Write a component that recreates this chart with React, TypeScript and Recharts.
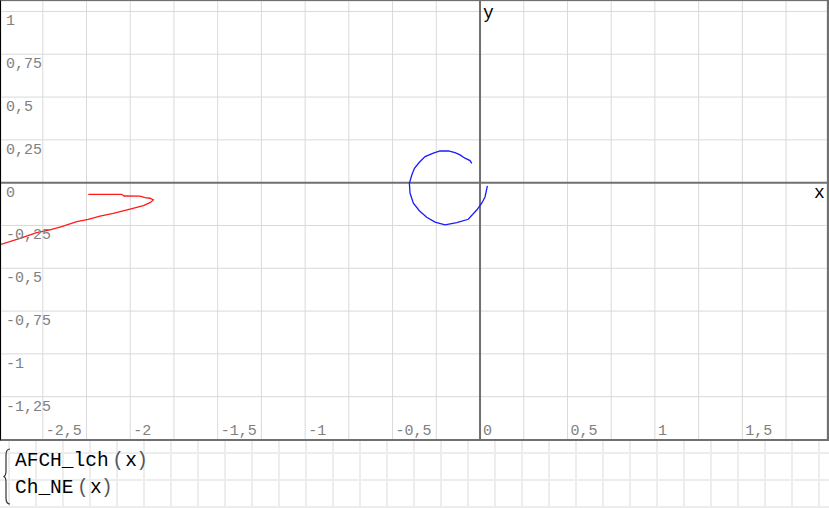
import { CartesianGrid, Legend, ReferenceLine, Scatter, ScatterChart, XAxis, YAxis } from "recharts";

// frequency response of the linear part (blue loop)
const AFCH_LCH = [
  { x: -0.047, y: 0.113 },
  { x: -0.057, y: 0.129 },
  { x: -0.086, y: 0.143 },
  { x: -0.114, y: 0.162 },
  { x: -0.143, y: 0.175 },
  { x: -0.181, y: 0.185 },
  { x: -0.229, y: 0.185 },
  { x: -0.267, y: 0.172 },
  { x: -0.314, y: 0.152 },
  { x: -0.347, y: 0.119 },
  { x: -0.375, y: 0.084 },
  { x: -0.39, y: 0.045 },
  { x: -0.404, y: -0.004 },
  { x: -0.4, y: -0.062 },
  { x: -0.381, y: -0.12 },
  { x: -0.347, y: -0.164 },
  { x: -0.305, y: -0.202 },
  { x: -0.257, y: -0.23 },
  { x: -0.2, y: -0.247 },
  { x: -0.133, y: -0.234 },
  { x: -0.067, y: -0.214 },
  { x: -0.019, y: -0.16 },
  { x: 0.01, y: -0.12 },
  { x: 0.029, y: -0.082 },
  { x: 0.042, y: -0.019 },
];

// nonlinear element characteristic (red)
const CH_NE = [
  { x: -2.24, y: -0.068 },
  { x: -2.049, y: -0.068 },
  { x: -2.035, y: -0.078 },
  { x: -1.944, y: -0.079 },
  { x: -1.915, y: -0.088 },
  { x: -1.887, y: -0.091 },
  { x: -1.868, y: -0.101 },
  { x: -1.887, y: -0.117 },
  { x: -1.925, y: -0.134 },
  { x: -2.001, y: -0.154 },
  { x: -2.097, y: -0.179 },
  { x: -2.173, y: -0.195 },
  { x: -2.24, y: -0.214 },
  { x: -2.306, y: -0.228 },
  { x: -2.392, y: -0.257 },
  { x: -2.459, y: -0.276 },
  { x: -2.535, y: -0.292 },
  { x: -2.63, y: -0.325 },
  { x: -2.76, y: -0.367 },
];

const X_TICKS = [-2.5, -2.25, -2, -1.75, -1.5, -1.25, -1, -0.75, -0.5, -0.25, 0, 0.25, 0.5, 0.75, 1, 1.25, 1.5, 1.75];
const X_LABELED = [-2.5, -2, -1.5, -1, -0.5, 0, 0.5, 1, 1.5];
const Y_TICKS = [1, 0.75, 0.5, 0.25, 0, -0.25, -0.5, -0.75, -1, -1.25];

const MONO = "'Liberation Mono', 'Courier New', monospace";
const fmt = (v: number) => String(v).replace(".", ",");

const NoDot = () => <g />;

const XTick = ({ x, y, payload }: any) => {
  if (!X_LABELED.includes(payload.value)) return <g />;
  return (
    <text x={x + 3} y={y - 5} fill="#808080" fontSize={15} fontFamily={MONO}>
      {fmt(payload.value)}
    </text>
  );
};

const YTick = ({ x, y, payload }: any) => (
  <text x={x + 5} y={y + 14} fill="#808080" fontSize={15} fontFamily={MONO}>
    {fmt(payload.value)}
  </text>
);

const FuncLegend = ({ payload }: any) => (
  <svg width={829} height={67} style={{ display: "block" }}>
    <path
      d="M10,8 Q6,8 6,14 L6,30 Q6,35 3.5,35.5 Q6,36 6,41 L6,57 Q6,63 10,63"
      fill="none"
      stroke="#333"
      strokeWidth={1.2}
    />
    {(payload || []).map((p: any, i: number) => (
      <text key={p.value} x={15} y={24.5 + i * 27.5} fontSize={19.5} fontFamily={MONO} fill="#000">
        {p.value}
        <tspan dx={3.5} fill="#555">(</tspan>
        <tspan dx={1.4}>x</tspan>
        <tspan dx={-0.7} fill="#555">)</tspan>
      </text>
    ))}
  </svg>
);

export default function App() {
  return (
    <div style={{ position: "absolute", left: 0, top: 0, width: 829, height: 508, background: "#fff" }}>
      <ScatterChart width={829} height={508} margin={{ top: 1, right: 2, bottom: 67, left: 0 }}>
        <CartesianGrid stroke="#d9d9d9" strokeWidth={1} />
        <XAxis
          type="number"
          dataKey="x"
          domain={[-2.739, 1.984]}
          allowDataOverflow
          ticks={X_TICKS}
          interval={0}
          height={1}
          axisLine={false}
          tickLine={false}
          tickSize={0}
          tickMargin={0}
          tick={<XTick />}
        />
        <YAxis
          type="number"
          dataKey="y"
          domain={[-1.503, 1.061]}
          allowDataOverflow
          ticks={Y_TICKS}
          interval={0}
          width={1}
          axisLine={false}
          tickLine={false}
          tickSize={0}
          tickMargin={0}
          tick={<YTick />}
        />
        <ReferenceLine
          x={0}
          stroke="#707070"
          strokeWidth={2}
          label={(p: any) => (
            <text x={p.viewBox.x + 3} y={p.viewBox.y + 17} fontSize={18} fontFamily={MONO} fill="#000">
              y
            </text>
          )}
        />
        <ReferenceLine
          y={0}
          stroke="#707070"
          strokeWidth={2}
          label={(p: any) => (
            <text
              x={p.viewBox.x + p.viewBox.width - 13}
              y={p.viewBox.y + 15}
              fontSize={18}
              fontFamily={MONO}
              fill="#000"
            >
              x
            </text>
          )}
        />
        <Scatter
          name="AFCH_lch"
          data={AFCH_LCH}
          line={{ stroke: "#1a1aff", strokeWidth: 1.3 }}
          lineType="joint"
          shape={<NoDot />}
          legendType="none"
          isAnimationActive={false}
        />
        <Scatter
          name="Ch_NE"
          data={CH_NE}
          line={{ stroke: "#ff1a1a", strokeWidth: 1.3 }}
          lineType="joint"
          shape={<NoDot />}
          legendType="none"
          isAnimationActive={false}
        />
        <Legend
          layout="horizontal"
          verticalAlign="middle"
          align="center"
          payload={[
            { value: "AFCH_lch", type: "line", id: "a" },
            { value: "Ch_NE", type: "line", id: "c" },
          ]}
          content={<FuncLegend />}
          wrapperStyle={{
            position: "absolute",
            left: 0,
            top: 441,
            width: 829,
            height: 67,
            margin: 0,
            backgroundImage:
              "linear-gradient(to right, #ededed 2px, transparent 2px), linear-gradient(to bottom, #ededed 2px, transparent 2px)",
            backgroundSize: "27px 27px",
            backgroundPosition: "8px 11px",
          }}
        />
      </ScatterChart>
      <div
        style={{
          position: "absolute",
          left: 0,
          top: 0,
          width: 829,
          height: 441,
          boxSizing: "border-box",
          borderLeft: "1px solid #000",
          borderTop: "1px solid #707070",
          borderRight: "2px solid #707070",
          borderBottom: "2px solid #707070",
          pointerEvents: "none",
        }}
      />
    </div>
  );
}
